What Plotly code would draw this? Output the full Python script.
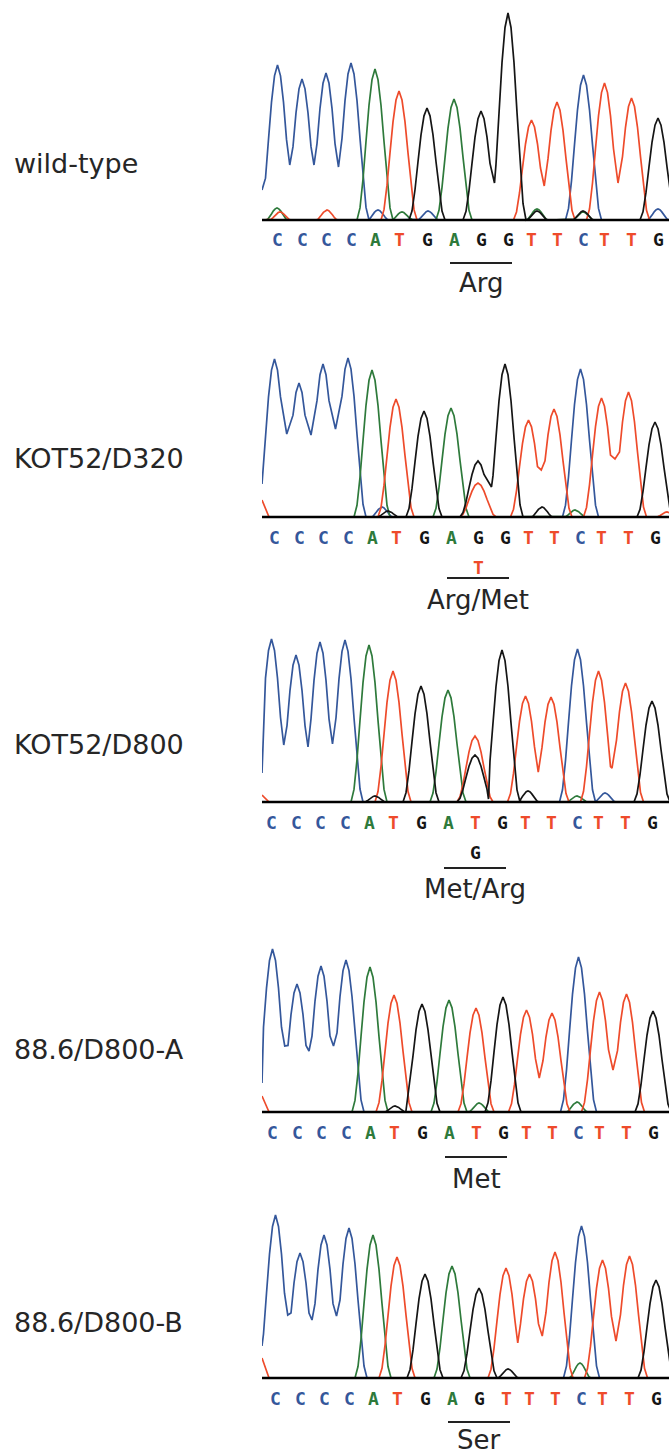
import plotly.graph_objects as go

# ---------------- data ----------------
# scan position of each called base (shared by all five runs)
BASE_POS = [15.5, 40, 64, 89, 113, 137, 165, 192, 219, 246, 269.5, 295, 321.5, 342.5, 369.5, 396]
# small per-run offset of the scans
PANEL_SHIFT = [0, -3, -6, -5, -2]

SAMPLES = ["wild-type", "KOT52/D320", "KOT52/D800", "88.6/D800-A", "88.6/D800-B"]
AMINO = ["Arg", "Arg/Met", "Met/Arg", "Met", "Ser"]
CODON = [7, 9]

SEQ_WT = "CCCCATGAGGTTCTTG"
SEQ_D320 = "CCCCATGAGGTTCTTG"
SEQ_D800 = "CCCCATGATGTTCTTG"
SEQ_A = "CCCCATGATGTTCTTG"
SEQ_B = "CCCCATGAGTTTCTTG"

H_WT = [155, 141, 147, 157, 151, 129, 112, 121, 109, 207, 100, 118, 145, 137, 122, 102]
H_D320 = [158, 134, 153, 159, 147, 118, 106, 109, 56, 153, 97, 108, 148, 119, 125, 95]
H_D800 = [163, 147, 160, 162, 157, 131, 116, 112, 66, 152, 106, 105, 153, 131, 119, 101]
H_A = [163, 128, 146, 152, 145, 117, 108, 112, 104, 115, 102, 99, 155, 120, 118, 101]
H_B = [163, 125, 143, 150, 143, 121, 104, 112, 90, 110, 104, 126, 152, 118, 122, 98]

# valley between two neighbouring peaks of the same dye (key = left base index)
TR_WT = {0: 55, 1: 55, 2: 53, 8: 37, 10: 34, 13: 37}
TR_D320 = {0: 83, 1: 82, 2: 88, 8: 30, 10: 47, 13: 58}
TR_D800 = {0: 57, 1: 55, 2: 58, 10: 30, 13: 34}
TR_A = {0: 66, 1: 61, 2: 66, 10: 34, 13: 42}
TR_B = {0: 63, 1: 58, 2: 62, 9: 35, 10: 42, 13: 37}

# secondary (mixed) peaks: base index, dye, height, valley to next peak of same dye
SEC_WT = []
SEC_D320 = [(8, "T", 34, None)]
SEC_D800 = [(8, "G", 47, 3)]
SEC_A = []
SEC_B = []

# small background bumps: dye, scan position, height
MIN_WT = [("A", 15, 12), ("T", 18, 8), ("T", 65, 10), ("C", 116, 10), ("A", 140, 8),
          ("C", 166, 9), ("A", 275, 11), ("G", 275, 9), ("G", 321, 9), ("A", 321, 8), ("C", 396, 11)]
MIN_D320 = [("C", 120, 10), ("G", 126, 6), ("G", 280, 10), ("A", 313, 7), ("T", 405, 5)]
MIN_D800 = [("G", 113, 6), ("G", 266, 11), ("C", 343, 9), ("A", 315, 6)]
MIN_A = [("G", 133, 6), ("A", 217, 9), ("A", 315, 10)]
MIN_B = [("G", 246, 9), ("A", 318, 15)]

# signal level at the left edge of each scan
ST_WT = {"C": 30}
ST_D320 = {"C": 33, "T": 17}
ST_D800 = {"C": 29, "T": 7}
ST_A = {"C": 29, "T": 16}
ST_B = {"C": 32, "T": 20}

SEQS = [SEQ_WT, SEQ_D320, SEQ_D800, SEQ_A, SEQ_B]
HEIGHTS = [H_WT, H_D320, H_D800, H_A, H_B]
TROUGHS = [TR_WT, TR_D320, TR_D800, TR_A, TR_B]
SECOND = [SEC_WT, SEC_D320, SEC_D800, SEC_A, SEC_B]
MINOR = [MIN_WT, MIN_D320, MIN_D800, MIN_A, MIN_B]
START = [ST_WT, ST_D320, ST_D800, ST_A, ST_B]

# ---------------- style / layout ----------------
COLORS = {"C": "#34579b", "A": "#2e7a3b", "T": "#ee4b2b", "G": "#151515"}
W = 669
H = 1455
BASELINE_PX = [220, 517, 802, 1112, 1378]
LABEL_PX = [163, 458, 745, 1049, 1322]
BAR_Y = [-43, -61, -66, -45, -44]
AMINO_Y = [-63, -83, -87, -67, -62]
LETTER_Y = -20
SEC_LETTER_Y = -50
Y_TOP = 215
Y_BOTTOM = [-95, -95, -95, -95, -76]
X_MAX = 407
# drawing template of one peak (offsets in scan units, fraction of peak height)
PEAK_DX = [-18, -15, -12, -9, -6, -3, 0, 3, 6, 9, 12, 15, 18]
PEAK_FRAC = [0.0, 0.08, 0.27, 0.52, 0.76, 0.93, 1.0, 0.93, 0.76, 0.52, 0.27, 0.08, 0.0]
MAJOR_SCALE = 1.0
MINOR_SCALE = 0.6
TXT = "#262626"
BASE_FONT = dict(family="DejaVu Sans Mono", size=18, weight="bold")


def peak_shape(p, h, sc):
    return [(p + dx * sc, f * h) for dx, f in zip(PEAK_DX, PEAK_FRAC)]


def channel_points(k, base):
    shift = PANEL_SHIFT[k]
    seq = SEQS[k]
    peaks = []
    for i, b in enumerate(seq):
        if b == base:
            t = None
            if i + 1 < len(seq) and seq[i + 1] == base and i in TROUGHS[k]:
                t = TROUGHS[k][i]
            peaks.append((BASE_POS[i] + shift, HEIGHTS[k][i], t, MAJOR_SCALE))
    for (i, b, h, t) in SECOND[k]:
        if b == base:
            peaks.append((BASE_POS[i] + shift, h, t, MAJOR_SCALE))
    for (b, p, h) in MINOR[k]:
        if b == base:
            peaks.append((p, h, None, MINOR_SCALE))
    peaks.sort(key=lambda r: r[0])
    s = START[k].get(base, 0)
    xs, ys = [0.0], [float(s)]
    left_cut, left_min = 0.0, 0.0
    if s > 0 and peaks:
        if peaks[0][0] - 18 * peaks[0][3] > 12:
            xs.append(7.0)
            ys.append(0.0)
        else:
            left_min = s
    for j, (p, h, t, sc) in enumerate(peaks):
        shape = peak_shape(p, h, sc)
        half = len(shape) // 2
        for (x, y) in shape[:half]:
            if x > xs[-1] + 0.5 and x > left_cut and (y > left_min or left_min == 0):
                xs.append(x)
                ys.append(y)
        xs.append(p)
        ys.append(h)
        if t is not None and j + 1 < len(peaks):
            mid = (p + peaks[j + 1][0]) / 2
            for (x, y) in shape[half + 1:]:
                if x < mid - 0.5 and y > t:
                    xs.append(x)
                    ys.append(y)
            xs.append(mid)
            ys.append(t)
            left_cut, left_min = mid, t
        else:
            for (x, y) in shape[half + 1:]:
                xs.append(x)
                ys.append(y)
            left_cut, left_min = 0.0, 0.0
    xs.append(X_MAX + 20)
    ys.append(0)
    return xs, ys


fig = go.Figure()
annotations = []
layout = {}

for k in range(5):
    sfx = "" if k == 0 else str(k + 1)
    xa, ya = "x" + sfx, "y" + sfx
    b = BASELINE_PX[k]
    layout["xaxis" + sfx] = dict(domain=[262 / W, 1], range=[0, X_MAX], visible=False,
                                 anchor=ya, fixedrange=True)
    layout["yaxis" + sfx] = dict(domain=[1 - (b - Y_BOTTOM[k]) / H, 1 - (b - Y_TOP) / H],
                                 range=[Y_BOTTOM[k], Y_TOP], visible=False, anchor=xa,
                                 fixedrange=True)
    for base in ["C", "A", "T", "G"]:
        xs, ys = channel_points(k, base)
        fig.add_trace(go.Scatter(x=xs, y=ys, mode="lines", xaxis=xa, yaxis=ya,
                                 line=dict(color=COLORS[base], width=1.7),
                                 hoverinfo="skip", showlegend=False))
    # baseline
    fig.add_trace(go.Scatter(x=[0, X_MAX], y=[0, 0], mode="lines", xaxis=xa, yaxis=ya,
                             line=dict(color="#000000", width=2.6),
                             hoverinfo="skip", showlegend=False))
    shift = PANEL_SHIFT[k]
    # codon bar
    fig.add_trace(go.Scatter(x=[BASE_POS[CODON[0]] + shift - 4, BASE_POS[CODON[1]] + shift + 4],
                             y=[BAR_Y[k], BAR_Y[k]], mode="lines", xaxis=xa, yaxis=ya,
                             line=dict(color="#222222", width=2),
                             hoverinfo="skip", showlegend=False))
    # base calls
    for i, bc in enumerate(SEQS[k]):
        annotations.append(dict(x=BASE_POS[i] + shift, y=LETTER_Y, xref=xa, yref=ya, text=bc,
                                showarrow=False, xanchor="center", yanchor="middle",
                                font=dict(BASE_FONT, color=COLORS[bc])))
    for (i, bc, h, t) in SECOND[k]:
        annotations.append(dict(x=BASE_POS[i] + shift, y=SEC_LETTER_Y, xref=xa, yref=ya, text=bc,
                                showarrow=False, xanchor="center", yanchor="middle",
                                font=dict(BASE_FONT, color=COLORS[bc])))
    # amino acid label
    annotations.append(dict(x=BASE_POS[8] + shift, y=AMINO_Y[k], xref=xa, yref=ya, text=AMINO[k],
                            showarrow=False, xanchor="center", yanchor="middle",
                            font=dict(family="DejaVu Sans", size=26, color=TXT)))
    # sample label
    annotations.append(dict(x=12 / W, y=1 - LABEL_PX[k] / H, xref="paper", yref="paper",
                            text=SAMPLES[k], showarrow=False, xanchor="left", yanchor="middle",
                            font=dict(family="DejaVu Sans", size=27, color=TXT)))

fig.update_layout(width=W, height=H, margin=dict(l=0, r=0, t=0, b=0),
                  paper_bgcolor="white", plot_bgcolor="rgba(0,0,0,0)",
                  annotations=annotations, **layout)

fig.write_html("out.html", config={"displayModeBar": False},
               post_script="document.body.style.margin='0';document.body.style.overflow='hidden';")
